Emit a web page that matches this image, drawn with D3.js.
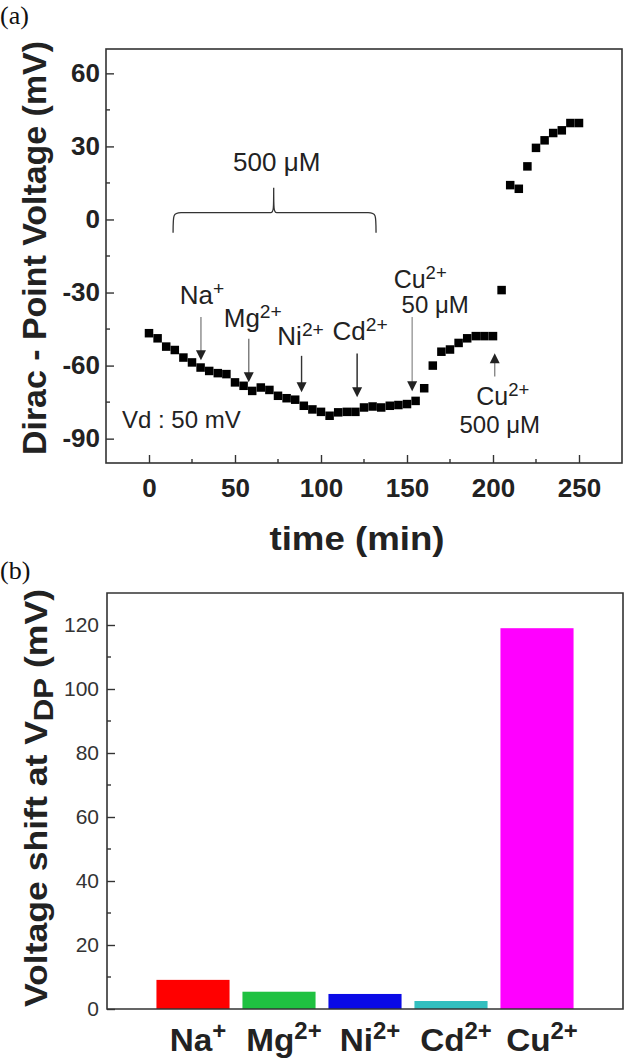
<!DOCTYPE html>
<html><head><meta charset="utf-8">
<script src="https://cdn.jsdelivr.net/npm/d3@7"></script>
<style>html,body{margin:0;padding:0;background:#fff}svg{display:block}</style>
</head><body>
<svg id="c" width="625" height="1062"></svg>
<script>
// ---- Panel (a) data ----
const timeMin = [0,5,10,15,20,25,30,35,40,45,50,55,60,65,70,75,80,85,90,95,100,105,110,115,120,125,130,135,140,145,150,155,160,165,170,175,180,185,190,195,200,205,210,215,220,225,230,235,240,245,250];
const diracVoltage = [-46.7,-48.8,-52.2,-53.6,-56.7,-58.7,-60.8,-62.2,-63.1,-63.5,-66.9,-68.3,-70.4,-69.0,-70.0,-72.4,-73.4,-74.0,-76.5,-78.0,-79.0,-80.6,-79.2,-79.0,-79.0,-77.2,-76.8,-77.2,-76.5,-76.2,-75.8,-74.5,-69.3,-60.0,-54.3,-53.4,-50.7,-48.8,-47.9,-47.9,-47.9,-29.0,14.1,12.6,21.8,29.4,32.5,35.5,36.6,39.6,39.6];
const xTicksA = [0,50,100,150,200,250];
const yTicksA = [-90,-60,-30,0,30,60];
// arrows: ion label, time position, tip value, tail value
const arrowIon = ["Na","Mg","Ni","Cd","Cu","Cu"];
const arrowCharge = ["+","2+","2+","2+","2+","2+"];
const arrowConc = ["","","","","50 μM","500 μM"];
const arrowTime = [30.2,58,88.7,121,153,201];
const arrowTip = [-57.8,-66.8,-70.9,-73,-70.5,-54.9];
const arrowTail = [-40,-49,-56,-55,-40,-64.5];

// ---- Panel (b) data ----
const ionBase = ["Na","Mg","Ni","Cd","Cu"];
const ionCharge = ["+","2+","2+","2+","2+"];
const voltageShift = [9.1,5.4,4.7,2.5,119];
const barColors = ["#ff0000","#1fc141","#0a0ae6","#33bfbf","#ff00ff"];
const yTicksB = [0,20,40,60,80,100,120];

const svg = d3.select("#c");
const SANS = "'Liberation Sans', Arial, sans-serif";
const SERIF = "'Liberation Serif', 'Times New Roman', serif";
const ink = "#222";

// ================= Panel (a) =================
const xA = d3.scaleLinear().domain([-25,275]).range([106,622]);
const yA = d3.scaleLinear().domain([-100,70]).range([463,49]);

svg.append("text").attr("x",0).attr("y",24).attr("font-family",SERIF)
  .attr("font-size",26).attr("fill","#111").text("(a)");

const gA = svg.append("g");
gA.append("rect").attr("x",xA(-25)).attr("y",yA(70)).attr("width",xA(275)-xA(-25)).attr("height",yA(-100)-yA(70))
  .attr("fill","none").attr("stroke","#333").attr("stroke-width",1.6);

const axLeftA = d3.axisLeft(yA).tickValues(yTicksA).tickSize(-8).tickPadding(6).tickFormat(d=>String(d));
const gyA = gA.append("g").attr("transform",`translate(${xA(-25)},0)`).call(axLeftA);
const axBotA = d3.axisBottom(xA).tickValues(xTicksA).tickSize(-8).tickPadding(16).tickFormat(d=>String(d));
const gxA = gA.append("g").attr("transform",`translate(0,${yA(-100)})`).call(axBotA);
[gyA,gxA].forEach(g=>{
  g.select(".domain").remove();
  g.selectAll(".tick line").attr("stroke","#333").attr("stroke-width",1.4);
  g.selectAll("text").attr("font-family",SANS).attr("font-weight","bold").attr("font-size",26).attr("fill",ink);
});
gA.selectAll(".myA").data(d3.range(-75,70,30)).join("line")
  .attr("x1",xA(-25)).attr("x2",xA(-25)+4).attr("y1",d=>yA(d)).attr("y2",d=>yA(d)).attr("stroke","#333").attr("stroke-width",1.4);
gA.selectAll(".mxA").data(d3.range(25,275,50)).join("line")
  .attr("y1",yA(-100)).attr("y2",yA(-100)-4).attr("x1",d=>xA(d)).attr("x2",d=>xA(d)).attr("stroke","#333").attr("stroke-width",1.4);

// axis titles
gA.append("text").attr("transform",`translate(46,248) rotate(-90)`)
  .attr("text-anchor","middle").attr("font-family",SANS).attr("font-weight","bold").attr("font-size",33).attr("fill",ink)
  .attr("textLength",414).attr("lengthAdjust","spacingAndGlyphs")
  .text("Dirac - Point Voltage (mV)");
gA.append("text").attr("x",357).attr("y",550)
  .attr("text-anchor","middle").attr("font-family",SANS).attr("font-weight","bold").attr("font-size",33).attr("fill",ink)
  .attr("textLength",175).attr("lengthAdjust","spacingAndGlyphs")
  .text("time (min)");

// data squares
const ms = 8.5;
gA.selectAll(".pt").data(timeMin.map((t,i)=>[t,diracVoltage[i]])).join("rect")
  .attr("x",d=>xA(d[0])-ms/2).attr("y",d=>yA(d[1])-ms/2).attr("width",ms).attr("height",ms).attr("fill","#000");

// brace
const bx0 = xA(14), bx1 = xA(132), bm = xA(72.5), by = yA(2.8);
const braceD = `M${bx0},${by+20} C${bx0},${by+2} ${bx0},${by} ${bx0+8},${by} L${bm-3},${by} C${bm},${by} ${bm},${by-4} ${bm},${by-25} C${bm},${by-4} ${bm},${by} ${bm+3},${by} L${bx1-8},${by} C${bx1},${by} ${bx1},${by+2} ${bx1},${by+20}`;
gA.append("path").attr("d",braceD).attr("fill","none").attr("stroke","#333").attr("stroke-width",1.3);
gA.append("text").attr("x",bm+3).attr("y",yA(20)).attr("text-anchor","middle").attr("font-family",SANS).attr("font-size",26).attr("fill",ink).text("500 μM");

// arrows
const arrowColors = ["#888","#777","#333","#222","#999","#888"];
arrowTime.forEach((t,i)=>{
  const x = xA(t), y1 = yA(arrowTail[i]), y2 = yA(arrowTip[i]);
  const dir = y2>y1 ? 1 : -1;
  gA.append("line").attr("x1",x).attr("x2",x).attr("y1",y1).attr("y2",y2-dir*8).attr("stroke",arrowColors[i]).attr("stroke-width",1.4);
  gA.append("path").attr("d",`M${x-5},${y2-dir*10} L${x+5},${y2-dir*10} L${x},${y2} Z`).attr("fill","#222");
});
function ionText(g,x,y,base,charge,size,anchor,weight,supScale){
  const t = g.append("text").attr("x",x).attr("y",y).attr("text-anchor",anchor||"middle")
    .attr("font-family",SANS).attr("font-size",size).attr("font-weight",weight||"normal").attr("fill",ink);
  t.append("tspan").text(base);
  t.append("tspan").attr("dy",-size*0.36).attr("font-size",size*(supScale||0.72)).text(charge);
  return t;
}
const labelY = [304,327,345,340,288,405];
const labelDx = [1,4,-1,3,8,8];
const concDx = [0,0,0,0,23,5];
const concY = [0,0,0,0,313,433];
arrowTime.forEach((t,i)=>{
  const size = arrowConc[i] ? 25 : 26;
  const tx = ionText(gA, xA(t)+labelDx[i], labelY[i], arrowIon[i], arrowCharge[i], size, "middle", "normal", 0.74);
  if (arrowConc[i]) {
    tx.append("tspan").attr("x",xA(t)+concDx[i]).attr("y",concY[i]).attr("font-size",24).text(arrowConc[i]);
  }
});
gA.append("text").attr("x",122).attr("y",428).attr("font-family",SANS).attr("font-size",24).attr("fill",ink).text("Vd : 50 mV");

// ================= Panel (b) =================
const xB = d3.scaleBand().domain(ionBase).range([107,623]).paddingInner(0.15).paddingOuter(0.575);
const yB = d3.scaleLinear().domain([0,130]).range([1009,593]);

svg.append("text").attr("x",0).attr("y",579).attr("font-family",SERIF)
  .attr("font-size",26).attr("fill","#111").text("(b)");

const gB = svg.append("g");
gB.selectAll(".bar").data(ionBase.map((b,i)=>({b,v:voltageShift[i],c:barColors[i]}))).join("rect")
  .attr("x",d=>xB(d.b)).attr("width",xB.bandwidth()).attr("y",d=>yB(d.v)).attr("height",d=>yB(0)-yB(d.v)).attr("fill",d=>d.c);

gB.append("path").attr("d",`M${xB.range()[0]},${yB(0)} L${xB.range()[0]},${yB(130)} L${xB.range()[1]},${yB(130)} L${xB.range()[1]},${yB(0)} Z`)
  .attr("fill","none").attr("stroke","#333").attr("stroke-width",1.6);

const axLeftB = d3.axisLeft(yB).tickValues(yTicksB).tickSize(-8).tickPadding(8).tickFormat(d=>String(d));
const gyB = gB.append("g").attr("transform",`translate(107,0)`).call(axLeftB);
gyB.select(".domain").remove();
gyB.selectAll(".tick line").attr("stroke","#333").attr("stroke-width",1.4);
gyB.selectAll("text").attr("font-family",SANS).attr("font-size",21).attr("fill","#333");
gB.selectAll(".myB").data(d3.range(10,130,20)).join("line")
  .attr("x1",107).attr("x2",111).attr("y1",d=>yB(d)).attr("y2",d=>yB(d)).attr("stroke","#333").attr("stroke-width",1.4);

ionBase.forEach((b,i)=>{
  const t = ionText(gB, xB(b)+xB.bandwidth()/2+5, 1051, b, ionCharge[i], 32, "middle", "bold", 0.72);
  const w = t.node().getComputedTextLength();
  t.attr("textLength", w*1.04).attr("lengthAdjust","spacingAndGlyphs");
});

const yl = gB.append("text").attr("transform",`translate(47,798) rotate(-90)`)
  .attr("text-anchor","middle").attr("font-family",SANS).attr("font-weight","bold").attr("font-size",32).attr("fill",ink)
  .attr("textLength",418).attr("lengthAdjust","spacingAndGlyphs");
yl.append("tspan").text("Voltage shift at V");
yl.append("tspan").attr("dy",6).attr("font-size",28).text("DP");
yl.append("tspan").attr("dy",-6).text(" (mV)");
</script>
</body></html>
